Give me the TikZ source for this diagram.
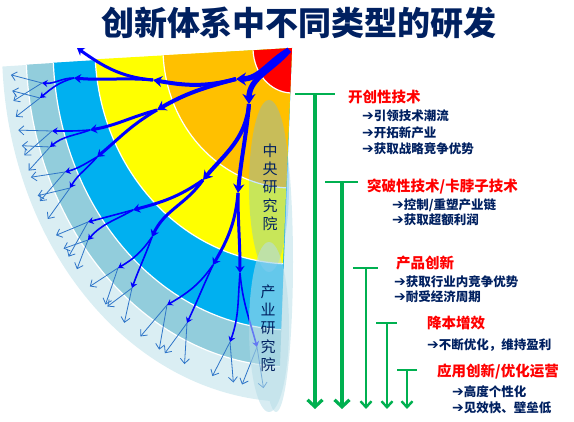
\documentclass[tikz,border=0pt]{standalone}
\usepackage{fontspec}
\newfontfamily\cjk{Noto Sans CJK SC}
\newfontfamily\symfont{DejaVu Sans}
\usetikzlibrary{arrows.meta}

\definecolor{navy}{RGB}{0,32,96}
\definecolor{bandred}{RGB}{255,0,0}
\definecolor{bandorange}{RGB}{255,192,0}
\definecolor{bandyellow}{RGB}{255,255,0}
\definecolor{bandblue}{RGB}{0,176,240}
\definecolor{bandmid}{RGB}{146,205,220}
\definecolor{bandlight}{RGB}{218,238,243}
\definecolor{flowblue}{RGB}{0,0,255}
\definecolor{leafblue}{RGB}{46,117,200}
\definecolor{trendgreen}{RGB}{0,176,80}
\definecolor{ovalone}{RGB}{98,186,255}
\definecolor{ovaltwo}{RGB}{183,221,232}

\newcommand{\pointer}{{\symfont\bfseries\fontsize{14}{14}\selectfont ➔}}

\tikzset{
  lvlone/.style={flowblue, line width=5.5pt, -{Stealth[length=10pt,width=13pt]}},
  lvltwo/.style={flowblue, line width=4pt, -{Stealth[length=9pt,width=11pt]}},
  lvlthree/.style={flowblue, line width=3pt, -{Stealth[length=7pt,width=9pt]}},
  lvlfour/.style={flowblue, line width=1.6pt, -{Stealth[length=5.5pt,width=7pt]}},
  leaf/.style={leafblue, line width=0.8pt, -{Straight Barb[length=5pt,width=9pt]}},
  border/.style={white, line width=1.2pt},
  heading/.style={anchor=west, inner sep=0pt, text=red, font=\cjk\bfseries\fontsize{14.5}{16}\selectfont},
  item/.style={anchor=west, inner sep=0pt, text=navy, font=\cjk\bfseries\fontsize{12.5}{14}\selectfont},
  ovaltext/.style={inner sep=0pt, align=center, text=navy, font=\cjk\fontsize{15}{18.3}\selectfont},
  trend/.style={trendgreen, line width=3.2pt, -{Straight Barb[length=7pt,width=15pt]}},
  trendsmall/.style={trendgreen, line width=2.4pt, -{Straight Barb[length=6pt,width=11pt]}},
  trendbar/.style={trendgreen, line width=2.6pt},
}

\begin{document}
\begin{tikzpicture}[x=1pt, y=-1pt]
    \useasboundingbox (0,0) rectangle (574,422);
    \coordinate (C) at (292,48);

    % pale glow behind the institutes
    \fill[bandlight] (276,262) ellipse[x radius=17, y radius=150];

    % fan of bands
    \fill[bandlight] (C) -- ([shift={(177:290 and 354)}]C) arc[start angle=177, end angle=92.6, x radius=290, y radius=354] -- cycle;
    \fill[bandmid] (C) -- ([shift={(177:266 and 319)}]C) arc[start angle=177, end angle=92.6, x radius=266, y radius=319] -- cycle;
    \fill[bandblue] (C) -- ([shift={(177:239 and 282)}]C) arc[start angle=177, end angle=92.6, x radius=239, y radius=282] -- cycle;
    \fill[bandyellow] (C) -- ([shift={(177:197 and 216)}]C) arc[start angle=177, end angle=92.6, x radius=197, y radius=216] -- cycle;
    \fill[bandorange] (C) -- ([shift={(177:129 and 140)}]C) arc[start angle=177, end angle=92.6, x radius=129, y radius=140] -- cycle;
    \fill[bandred] (C) -- ([shift={(177:39 and 45)}]C) arc[start angle=177, end angle=92.6, x radius=39, y radius=45] -- cycle;
    \draw[border] ([shift={(177:266 and 319)}]C) arc[start angle=177, end angle=92.6, x radius=266, y radius=319];
    \draw[border] ([shift={(177:239 and 282)}]C) arc[start angle=177, end angle=92.6, x radius=239, y radius=282];
    \draw[border] ([shift={(177:197 and 216)}]C) arc[start angle=177, end angle=92.6, x radius=197, y radius=216];
    \draw[border] ([shift={(177:129 and 140)}]C) arc[start angle=177, end angle=92.6, x radius=129, y radius=140];
    \draw[border] ([shift={(177:39 and 45)}]C) arc[start angle=177, end angle=92.6, x radius=39, y radius=45];

    % branching tree
    \coordinate (root) at (289,50);
    \coordinate (b1) at (236,79);
    \coordinate (b2) at (249,104);
    \coordinate (b11) at (153,80);
    \coordinate (b12) at (157,110);
    \coordinate (b21) at (203,180);
    \coordinate (b22) at (238,193);
    \coordinate (b111) at (77,48);
    \coordinate (b112) at (74,78);
    \coordinate (b121) at (90,130);
    \coordinate (b122) at (97,157);
    \coordinate (b211) at (133,210);
    \coordinate (b212) at (152,237);
    \coordinate (b221) at (213,265);
    \coordinate (b222) at (240,273);
    \coordinate (b1121) at (42,83);
    \coordinate (b1122) at (40,98);
    \coordinate (b1211) at (52,131);
    \coordinate (b1212) at (50,147);
    \coordinate (b1221) at (65,172);
    \coordinate (b1222) at (70,188);
    \coordinate (b2111) at (88,222);
    \coordinate (b2112) at (88,240);
    \coordinate (b2121) at (118,268);
    \coordinate (b2122) at (132,288);
    \coordinate (b2211) at (167,305);
    \coordinate (b2212) at (187,323);
    \coordinate (b2221) at (230,342);
    \coordinate (b2222) at (257,347);

    \foreach \p/\t in {b1121/173.3, b1122/170.6, b1211/163.9, b1212/161.2, b1221/155.6, b1222/152.2, b2111/144.6,
                       b2112/141.9, b2121/133.6, b2122/128.7, b2211/120.3, b2212/114.6, b2221/104.2, b2222/98.0} {
        \coordinate (\p a) at ([shift={(\t+2.2:282 and 342)}]C);
        \coordinate (\p b) at ([shift={(\t-2.2:282 and 342)}]C);
        \draw[leaf] (\p) -- (\p a);
        \draw[leaf] (\p) -- (\p b);
    }

    \draw[lvlfour] (b112) to[out=180, in=355] (b1121);
    \draw[lvlfour] (b112) to[out=195, in=40] (b1122);
    \draw[lvlfour] (b121) to[out=185, in=0] (b1211);
    \draw[lvlfour] (b121) to[out=200, in=40] (b1212);
    \draw[lvlfour] (b122) to[out=210, in=15] (b1221);
    \draw[lvlfour] (b122) to[out=230, in=60] (b1222);
    \draw[lvlfour] (b211) to[out=195, in=15] (b2111);
    \draw[lvlfour] (b211) to[out=210, in=50] (b2112);
    \draw[lvlfour] (b212) to[out=235, in=30] (b2121);
    \draw[lvlfour] (b212) to[out=250, in=70] (b2122);
    \draw[lvlfour] (b221) to[out=235, in=30] (b2211);
    \draw[lvlfour] (b221) to[out=245, in=65] (b2212);
    \draw[lvlfour] (b222) to[out=265, in=70] (b2221);
    \draw[lvlfour] (b222) to[out=275, in=105] (b2222);

    \draw[lvlthree] (b11) to[out=175, in=325] (b111);
    \draw[lvlthree] (b11) to[out=175, in=355] (b112);
    \draw[lvlthree] (b12) to[out=195, in=10] (b121);
    \draw[lvlthree] (b12) to[out=210, in=40] (b122);
    \draw[lvlthree] (b21) to[out=215, in=15] (b211);
    \draw[lvlthree] (b21) to[out=235, in=65] (b212);
    \draw[lvlthree] (b22) to[out=265, in=60] (b221);
    \draw[lvlthree] (b22) to[out=270, in=90] (b222);

    \draw[lvltwo] (b1) to[out=195, in=350] (b11);
    \draw[lvltwo] (b1) to[out=195, in=30] (b12);
    \draw[lvltwo] (b2) to[out=265, in=50] (b21);
    \draw[lvltwo] (b2) to[out=265, in=85] (b22);

    \draw[lvlone] (root) to[out=210, in=0] (b1);
    \draw[lvlone] (root) to[out=230, in=90] (b2);

    % research institutes
    \fill[ovalone, opacity=0.35] (269,186) ellipse[x radius=20, y radius=86];
    \fill[ovaltwo, opacity=0.55] (269,327) ellipse[x radius=20, y radius=85];
    \node[ovaltext] (central) at (270,187) {中\\央\\研\\究\\院};
    \node[ovaltext] (industry) at (268,328) {产\\业\\研\\究\\院};

    % green trends
    \coordinate (top1) at (315,94);
    \coordinate (top2) at (342,182);
    \coordinate (top3) at (366,268);
    \coordinate (top4) at (387,323);
    \coordinate (top5) at (407,370);
    \coordinate (end1) at (315,409);
    \coordinate (end2) at (342,409);
    \coordinate (end3) at (366,409);
    \coordinate (end4) at (387,409);
    \coordinate (end5) at (407,409);
    \draw[trendbar] ([xshift=-20pt]top1) -- ([xshift=20pt]top1);
    \draw[trendbar] ([xshift=-17pt]top2) -- ([xshift=16pt]top2);
    \draw[trendbar] ([xshift=-13pt]top3) -- ([xshift=12pt]top3);
    \draw[trendbar] ([xshift=-11pt]top4) -- ([xshift=10pt]top4);
    \draw[trendbar] ([xshift=-10pt]top5) -- ([xshift=10pt]top5);
    \draw[trend] (top1) -- (end1);
    \draw[trend] (top2) -- (end2);
    \draw[trendsmall] (top3) -- (end3);
    \draw[trendsmall] (top4) -- (end4);
    \draw[trendsmall] (top5) -- (end5);

    % labels
    \node[heading] (head1) at (348,97) {开创性技术};
    \node[item] (item11) at (362,116) {\pointer 引领技术潮流};
    \node[item] (item12) at (362,133) {\pointer 开拓新产业};
    \node[item] (item13) at (362,149) {\pointer 获取战略竞争优势};
    \node[heading] (head2) at (367,187) {突破性技术/卡脖子技术};
    \node[item] (item21) at (392,205) {\pointer 控制/重塑产业链};
    \node[item] (item22) at (392,220) {\pointer 获取超额利润};
    \node[heading] (head3) at (396,263) {产品创新};
    \node[item] (item31) at (394,282) {\pointer 获取行业内竞争优势};
    \node[item] (item32) at (394,297) {\pointer 耐受经济周期};
    \node[heading] (head4) at (427,323) {降本增效};
    \node[item] (item41) at (427,345) {\pointer 不断优化，维持盈利};
    \node[heading] (head5) at (437,372) {应用创新/优化运营};
    \node[item] (item51) at (452,392) {\pointer 高度个性化};
    \node[item] (item52) at (452,408) {\pointer 见效快、壁垒低};

    \node[text=navy, font=\cjk\bfseries\fontsize{33}{36}\selectfont] (title) at (299,23) {创新体系中不同类型的研发};
\end{tikzpicture}
\end{document}
